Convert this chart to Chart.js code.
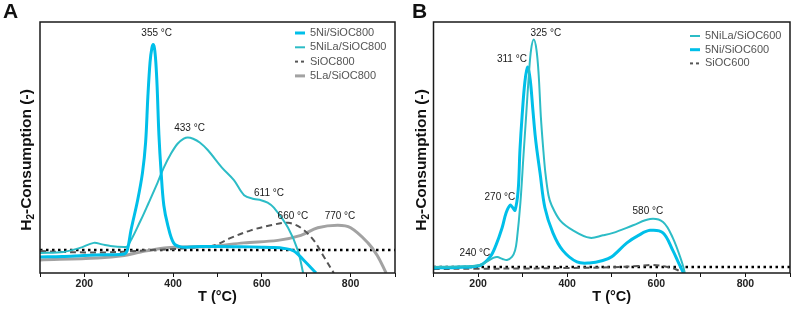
<!DOCTYPE html>
<html>
<head>
<meta charset="utf-8">
<script src="https://cdn.jsdelivr.net/npm/chart.js@4.4.0/dist/chart.umd.min.js"></script>
<style>
  body { margin: 0; background: #fff; }
  #wrap { position: relative; width: 796px; height: 309px; }
  canvas { position: absolute; top: 0; }
</style>
</head>
<body>
<div id="wrap">
  <canvas id="chartA" width="398" height="309" style="left:0"></canvas>
  <canvas id="chartB" width="398" height="309" style="left:398px"></canvas>
</div>
<script>
// ---- panel A (SiOC800 series) ----
const tNi800 = [100, 150, 200, 250, 290, 297, 305, 320, 331, 338, 343, 348, 352, 355, 358, 361, 364, 368, 373, 379, 388, 401, 417, 450, 500, 550, 600, 620, 650, 672, 695, 722];
const hNi800 = [6.4, 6.6, 7, 7.3, 7.6, 9.2, 17, 29, 40, 52, 70, 84, 89.5, 91, 89.5, 84, 74, 55, 40, 27, 19, 12, 10.4, 10.5, 10.6, 10.5, 10.3, 10.2, 9.8, 8.8, 5, 0];

const tNiLa800 = [100, 153, 190, 221, 240, 259, 289, 297, 327, 345, 365, 379, 395, 410, 424, 433, 445, 460, 478, 510, 537, 560, 582, 598, 613, 627, 659, 681, 693];
const hNiLa800 = [8, 8.4, 10, 12, 11.4, 10.8, 10.4, 10.6, 21, 28, 36, 42, 47.5, 51.5, 53.5, 54, 53.5, 52, 49, 42, 37, 31, 29.5, 29, 28, 26, 18, 9, 0];

const tSiOC800 = [100, 150, 200, 250, 300, 350, 388, 450, 492, 530, 575, 620, 659, 688, 717, 740, 762];
const hSiOC800 = [8.8, 8.4, 8.2, 8.2, 8.6, 9.2, 9.4, 10.2, 11, 14, 17, 19, 20, 18, 13, 6.4, 0];

const tLa800 = [100, 230, 290, 327, 380, 420, 485, 559, 636, 688, 726, 771, 800, 839, 860, 880];
const hLa800 = [5.2, 6, 7, 8.4, 10, 10.4, 10.6, 12, 13, 15, 18, 19, 18, 12, 7, 0];

const baseA = 9.2;

const peakTextA = ['355 °C', '433 °C', '611 °C', '660 °C', '770 °C'];
const peakTA = [363, 437, 616, 670, 776];
const peakVA = [95.6, 57.8, 31.9, 22.7, 22.7];

// ---- panel B (SiOC600 series) ----
const tNiLa600 = [100, 150, 204, 234, 243, 255, 265, 276, 283, 287, 295, 302, 308, 314, 319, 325, 331, 336, 341, 346, 351, 358, 365, 384, 413, 451, 480, 503, 548, 586, 615, 637, 658, 664];
const hNiLa600 = [2.4, 2.6, 3.2, 6, 6.4, 5.6, 5.2, 6.4, 9, 13, 28, 47, 63, 79, 89, 93, 89, 79, 62, 50, 40, 31, 27, 21, 17, 14, 15, 16, 19, 21.5, 20.3, 14, 4, 0];

const tNi600 = [100, 150, 204, 227, 240, 254, 263, 272, 278, 283, 290, 294, 299, 305, 311, 317, 323, 328, 332, 339, 350, 368, 390, 422, 450, 480, 500, 534, 560, 586, 615, 637, 650, 661];
const hNi600 = [2, 2.2, 3, 6.4, 11, 18, 24, 27, 26, 25, 33, 49, 63, 76, 82, 77, 65, 55, 49, 40, 26, 16, 9, 4.4, 4, 5, 6.5, 12, 15, 17, 16, 9, 4, 0];

const tSiOC600 = [100, 200, 300, 400, 500, 560, 590, 620, 645, 655];
const hSiOC600 = [1.6, 1.7, 1.8, 2, 2.3, 2.8, 3.2, 2.6, 1.4, 0.4];

const baseB = 2.4;

const peakTextB = ['325 °C', '311 °C', '270 °C', '240 °C', '580 °C'];
const peakTB = [352, 276, 249, 193, 581];
const peakVB = [95.6, 85.3, 30.3, 8, 24.7];

const CYAN = '#00bfe9';
const TEAL = '#2cbcc6';
const DARK = '#555555';
const GREY = '#a2a2a2';

Chart.defaults.font.family = '"Liberation Sans", Arial, sans-serif';

function pts(ts, hs) {
  return ts.map((t, i) => ({ x: t, y: hs[i] }));
}

function line(label, ts, hs, color, width, dash) {
  return {
    label: label,
    data: pts(ts, hs),
    borderColor: color,
    borderWidth: width,
    borderDash: dash || [],
    pointRadius: 0,
    fill: false,
    tension: 0.35
  };
}

function baseline(v) {
  return {
    label: '',
    data: [{ x: 100, y: v }, { x: 900, y: v }],
    borderColor: '#000',
    borderWidth: 2.5,
    borderDash: [2.5, 3.5],
    pointRadius: 0,
    fill: false
  };
}

// draws box, panel letter, y title, legend and peak labels
const decor = {
  id: 'decor',
  afterDraw(chart, args, o) {
    const ctx = chart.ctx;
    const a = chart.chartArea;
    const xs = chart.scales.x, ys = chart.scales.y;
    ctx.save();

    ctx.strokeStyle = '#1a1a1a';
    ctx.lineWidth = 1.5;
    ctx.strokeRect(a.left, a.top, a.right - a.left, a.bottom - a.top);

    ctx.fillStyle = '#111';
    ctx.font = 'bold 21px "Liberation Sans", Arial, sans-serif';
    ctx.textBaseline = 'middle';
    ctx.textAlign = 'left';
    ctx.fillText(o.letter, o.letterX, 12);

    // y axis title with subscript
    ctx.save();
    ctx.translate(o.yTitleX, o.yTitleY);
    ctx.rotate(-Math.PI / 2);
    const big = 'bold 15.5px "Liberation Sans", Arial, sans-serif';
    const small = 'bold 10px "Liberation Sans", Arial, sans-serif';
    ctx.font = big;
    const w1 = ctx.measureText('H').width;
    const w3 = ctx.measureText('-Consumption (-)').width;
    ctx.font = small;
    const w2 = ctx.measureText('2').width;
    let x = -(w1 + w2 + w3) / 2;
    ctx.font = big;
    ctx.fillText('H', x, 0);
    x += w1;
    ctx.font = small;
    ctx.fillText('2', x, 4);
    x += w2;
    ctx.font = big;
    ctx.fillText('-Consumption (-)', x, 0);
    ctx.restore();

    // legend
    ctx.font = '11px "Liberation Sans", Arial, sans-serif';
    ctx.textBaseline = 'middle';
    ctx.textAlign = 'left';
    let row = 0;
    chart.data.datasets.forEach(ds => {
      if (!ds.label) return;
      const y = o.legendY + row * o.legendStep;
      ctx.strokeStyle = ds.borderColor;
      ctx.lineWidth = ds.borderWidth;
      ctx.setLineDash(ds.borderDash.length ? [3, 3] : []);
      ctx.beginPath();
      ctx.moveTo(o.legendX, y);
      ctx.lineTo(o.legendX + 10, y);
      ctx.stroke();
      ctx.setLineDash([]);
      ctx.fillStyle = '#555';
      ctx.fillText(ds.label, o.legendX + 15, y);
      row++;
    });

    // peak labels
    ctx.font = '10px "Liberation Sans", Arial, sans-serif';
    ctx.fillStyle = '#1a1a1a';
    ctx.textAlign = 'center';
    o.peakText.forEach((txt, i) => {
      ctx.fillText(txt, xs.getPixelForValue(o.peakT[i]), ys.getPixelForValue(o.peakV[i]));
    });

    ctx.restore();
  }
};

function makeChart(id, datasets, pad, deco) {
  return new Chart(document.getElementById(id), {
    type: 'line',
    data: { datasets: datasets },
    plugins: [decor],
    options: {
      responsive: false,
      animation: false,
      layout: { padding: pad },
      plugins: { legend: { display: false }, tooltip: { enabled: false }, decor: deco },
      scales: {
        x: {
          type: 'linear',
          min: 100,
          max: 900,
          ticks: {
            stepSize: 100,
            autoSkip: false,
            maxRotation: 0,
            padding: 1,
            color: '#222',
            font: { size: 10.5, weight: 'bold' },
            callback: v => (v % 200 === 0 ? v : '')
          },
          grid: { drawOnChartArea: false, tickLength: 4, color: '#111', lineWidth: 1 },
          border: { display: false },
          title: {
            display: true,
            text: 'T (°C)',
            color: '#111',
            font: { size: 14.5, weight: 'bold' },
            padding: { top: 0, bottom: 3 }
          },
          afterFit: s => { s.height = 36; }
        },
        y: { display: false, min: 0, max: 100 }
      }
    }
  });
}

makeChart('chartA', [
  line('5Ni/SiOC800', tNi800, hNi800, CYAN, 3),
  line('5NiLa/SiOC800', tNiLa800, hNiLa800, TEAL, 2),
  line('SiOC800', tSiOC800, hSiOC800, DARK, 2, [6, 4]),
  line('5La/SiOC800', tLa800, hLa800, GREY, 3),
  baseline(baseA)
], { left: 40, right: 3, top: 22, bottom: 0 }, {
  letter: 'A', letterX: 3, yTitleX: 27, yTitleY: 160,
  legendX: 295, legendY: 33, legendStep: 14.3,
  peakText: peakTextA, peakT: peakTA, peakV: peakVA
});

makeChart('chartB', [
  line('5NiLa/SiOC600', tNiLa600, hNiLa600, TEAL, 2),
  line('5Ni/SiOC600', tNi600, hNi600, CYAN, 3),
  line('SiOC600', tSiOC600, hSiOC600, DARK, 2, [6, 4]),
  baseline(baseB)
], { left: 35.5, right: 6, top: 22, bottom: 0 }, {
  letter: 'B', letterX: 14, yTitleX: 24, yTitleY: 160,
  legendX: 292, legendY: 36, legendStep: 13.7,
  peakText: peakTextB, peakT: peakTB, peakV: peakVB
});
</script>
</body>
</html>
